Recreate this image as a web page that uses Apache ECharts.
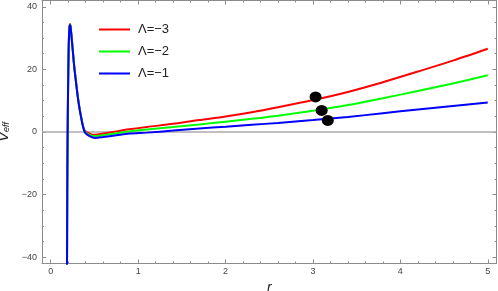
<!DOCTYPE html>
<html>
<head>
<meta charset="utf-8">
<script src="https://cdn.jsdelivr.net/npm/echarts@6/dist/echarts.min.js"></script>
<style>html,body{margin:0;padding:0;background:#fff}#c{width:498px;height:291px}</style>
</head>
<body>
<div id="c"></div>
<script>
// ---- data ----
const rVals = [0.186, 0.189, 0.192, 0.195, 0.199, 0.204, 0.210, 0.216, 0.221, 0.227, 0.236, 0.250, 0.268, 0.289, 0.315, 0.343, 0.388, 0.45, 0.51, 0.60, 0.75, 0.90, 1.10, 1.40, 1.70, 2.00, 2.30, 2.60, 3.00, 3.40, 3.80, 4.20, 4.60, 5.00];
const vRed   = [-45, -20, -5, 5, 15, 25, 31.7, 34.0, 34.5, 33.8, 31.3, 26.9, 21.3, 16.2, 10.3, 5.6, 0.5, -0.6, -0.9, -0.5, 0.2, 0.85, 1.6, 2.6, 3.8, 4.95, 6.3, 7.9, 10.2, 12.8, 15.9, 19.3, 22.8, 26.6];
const vGreen = [-45, -20, -5, 5, 15, 25, 31.6, 33.9, 34.3, 33.6, 31.1, 26.7, 21.1, 16.0, 10.1, 5.4, 0.2, -1.0, -1.3, -1.0, -0.4, 0.2, 0.8, 1.6, 2.4, 3.3, 4.2, 5.2, 6.8, 8.6, 10.8, 13.1, 15.5, 18.1];
const vBlue  = [-45, -20, -5, 5, 15, 25, 31.5, 33.8, 34.2, 33.5, 31.0, 26.6, 21.0, 15.9, 10.0, 5.3, 0.0, -1.4, -1.9, -1.6, -1.05, -0.5, -0.2, 0.45, 1.15, 1.7, 2.3, 2.9, 3.8, 4.8, 6.0, 7.2, 8.3, 9.4];
const seriesNames = ['Λ=−3', 'Λ=−2', 'Λ=−1'];
const dotPoints = [[3.03, 11.2], [3.10, 6.9], [3.17, 3.7]];
const xMajor = [0, 1, 2, 3, 4, 5];
const xMinor = [0.2,0.4,0.6,0.8,1.2,1.4,1.6,1.8,2.2,2.4,2.6,2.8,3.2,3.4,3.6,3.8,4.2,4.4,4.6,4.8];
const yMajor = [-40, -20, 0, 20, 40];
const yMinor = [-35,-30,-25,-15,-10,-5,5,10,15,25,30,35];

const pair = v => rVals.map((r, i) => [r, v[i]]);
const FONT = 'Liberation Sans';
const AX = '#8c8c8c';
const XR = {min: -0.1, max: 5.1};
const YR = {min: -42, max: 42};

function xa(pos, ticks, len, labels, line) {
  return {
    type: 'value', position: pos, ...XR,
    axisLine: {show: line, onZero: false, lineStyle: {color: AX, width: 1}},
    axisTick: {show: true, inside: true, length: len, customValues: ticks, lineStyle: {color: AX}},
    axisLabel: labels ? {show: true, customValues: ticks, fontSize: 9, color: '#444', fontFamily: FONT, margin: 4} : {show: false},
    splitLine: {show: false}
  };
}
function ya(pos, ticks, len, labels, line) {
  return {
    type: 'value', position: pos, ...YR,
    axisLine: {show: line, onZero: false, lineStyle: {color: AX, width: 1}},
    axisTick: {show: true, inside: true, length: len, customValues: ticks, lineStyle: {color: AX}},
    axisLabel: labels ? {show: true, customValues: ticks, fontSize: 9, color: '#444', fontFamily: FONT, margin: 5,
      formatter: v => String(v).replace('-', '−')} : {show: false},
    splitLine: {show: false}
  };
}

const xAxes = [
  xa('bottom', xMajor, 4, true, true),
  xa('bottom', xMinor, 2, false, false),
  xa('top', xMajor, 4, false, true),
  xa('top', xMinor, 2, false, false)
];
xAxes[0].name = 'r';
xAxes[0].nameLocation = 'middle';
xAxes[0].nameGap = 15;
xAxes[0].nameTextStyle = {fontSize: 14, fontStyle: 'italic', color: '#222', fontFamily: FONT};

const yAxes = [
  ya('left', yMajor, 4, true, true),
  ya('left', yMinor, 2, false, false),
  ya('right', yMajor, 4, false, true),
  ya('right', yMinor, 2, false, false)
];
yAxes[0].name = '{v|V}{s|eff}';
yAxes[0].nameLocation = 'middle';
yAxes[0].nameRotate = 90;
yAxes[0].nameGap = 28;
yAxes[0].nameTextStyle = {
  rich: {
    v: {fontSize: 15, fontStyle: 'italic', color: '#222', fontFamily: FONT},
    s: {fontSize: 9, fontStyle: 'italic', color: '#222', fontFamily: FONT, verticalAlign: 'bottom', padding: [6, 0, 0, 0]}
  }
};

const colors = ['#ff0000', '#00ff00', '#0000ff'];
const curves = [vRed, vGreen, vBlue].map((v, i) => ({
  name: seriesNames[i], type: 'line', data: pair(v), showSymbol: false, symbol: 'none',
  smooth: 0.3, clip: true, xAxisIndex: 0, yAxisIndex: 0, z: 3 + i,
  lineStyle: {color: colors[i], width: 2}, itemStyle: {color: colors[i]},
  emphasis: {disabled: true}
}));
curves[0].markLine = {
  silent: true, symbol: 'none', label: {show: false}, z: 1,
  lineStyle: {color: '#aaaaaa', width: 1.5, type: 'solid'},
  data: [{yAxis: 0}]
};

const chart = echarts.init(document.getElementById('c'), null, {renderer: 'canvas'});
chart.setOption({
  animation: false,
  backgroundColor: '#fff',
  grid: {left: 42, right: 1.5, top: 0.5, bottom: 27.5, containLabel: false, outerBoundsMode: 'none'},
  legend: {
    data: seriesNames, orient: 'vertical', left: 94, top: 18, itemGap: 9,
    itemWidth: 31, itemHeight: 13, icon: 'path://M0,5.5 L31,5.5 L31,7.5 L0,7.5 Z',
    textStyle: {fontSize: 13, color: '#222', fontFamily: FONT, padding: [0, 0, 0, 3]}
  },
  xAxis: xAxes,
  yAxis: yAxes,
  series: curves.concat([{
    type: 'scatter', data: dotPoints, symbol: 'circle', symbolSize: [12, 11],
    itemStyle: {color: '#000', opacity: 1}, z: 10, xAxisIndex: 0, yAxisIndex: 0, emphasis: {disabled: true}
  }])
});
</script>
</body>
</html>
